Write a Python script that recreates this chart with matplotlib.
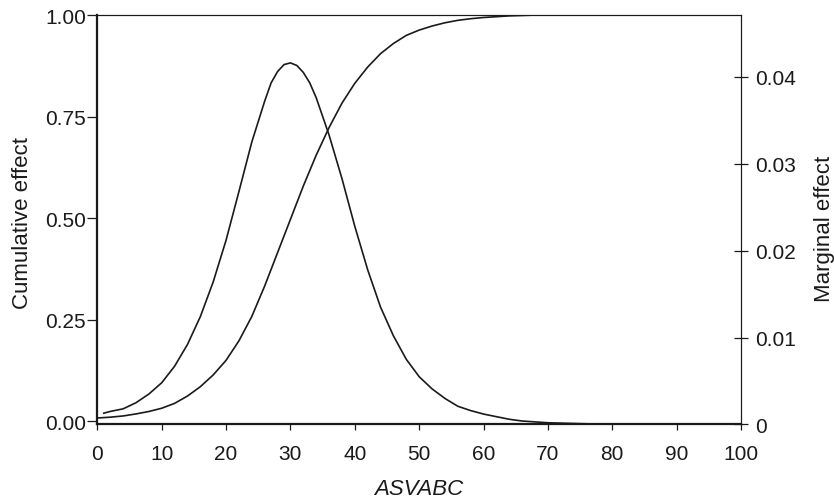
import numpy as np
import matplotlib.pyplot as plt

plt.rcParams['font.family'] = ['Liberation Sans', 'DejaVu Sans']

# cumulative effect (left axis)
x_cum = [0, 2, 4, 6, 8, 10, 12, 14, 16, 18, 20, 22, 24, 26, 28, 30, 32, 34,
         36, 38, 40, 42, 44, 46, 48, 50, 52, 54, 56, 58, 60, 62, 64, 66, 68,
         70, 80, 90, 100]
cum = [0.008, 0.010, 0.013, 0.018, 0.024, 0.032, 0.044, 0.062, 0.085, 0.114,
       0.150, 0.198, 0.258, 0.333, 0.415, 0.497, 0.579, 0.655, 0.723, 0.783,
       0.832, 0.872, 0.905, 0.930, 0.950, 0.963, 0.973, 0.981, 0.987, 0.991,
       0.994, 0.996, 0.998, 0.999, 1.0, 1.0, 1.0, 1.0, 1.0]

# marginal effect (right axis)
x_marg = [1, 2, 4, 6, 8, 10, 12, 14, 16, 18, 20, 22, 24, 26, 27, 28, 29, 30,
          31, 32, 33, 34, 36, 38, 40, 42, 44, 46, 48, 50, 52, 54, 56, 58, 60,
          62, 64, 66, 68, 70, 75, 80, 90, 100]
marg = [0.0013, 0.0015, 0.0018, 0.0025, 0.0035, 0.0048, 0.0067, 0.0092,
        0.0124, 0.0164, 0.0212, 0.0268, 0.0325, 0.0372, 0.0393, 0.0406,
        0.0414, 0.0416, 0.0413, 0.0405, 0.0393, 0.0376, 0.0333, 0.0283,
        0.0228, 0.0178, 0.0135, 0.0102, 0.0075, 0.0055, 0.0041, 0.0030,
        0.0021, 0.0016, 0.0012, 0.0009, 0.0006, 0.0004, 0.0003, 0.0002,
        0.0001, 0.0, 0.0, 0.0]

xticks = list(range(0, 101, 10))
left_ticks = [0.0, 0.25, 0.5, 0.75, 1.0]
right_ticks = [0, 0.01, 0.02, 0.03, 0.04]
right_labels = ['0', '0.01', '0.02', '0.03', '0.04']

fig = plt.figure(figsize=(8.34, 5.02), dpi=100)
ax = fig.add_axes([0.1167, 0.1524, 0.7718, 0.8156])
ax2 = ax.twinx()

ax.plot(x_cum, cum, color='#1a1a1a', lw=1.2)
ax2.plot(x_marg, marg, color='#1a1a1a', lw=1.2)

ax.set_xlim(0, 100)
ax.set_ylim(-0.008, 1.0)
ax2.set_ylim(0, 0.0471)

ax.set_xticks(xticks)
ax.set_xticklabels([str(t) for t in xticks])
ax.set_yticks(left_ticks)
ax.set_yticklabels(['%.2f' % t for t in left_ticks])
ax2.set_yticks(right_ticks)
ax2.set_yticklabels(right_labels)

ax.tick_params(axis='x', direction='out', length=4.3, width=0.9, pad=10,
               labelsize=15, colors='#1a1a1a')
ax.tick_params(axis='y', direction='out', length=7.2, width=0.9, pad=1,
               labelsize=15, colors='#1a1a1a')
ax2.tick_params(axis='y', direction='inout', length=10, width=0.9, pad=5.5,
                labelsize=15, colors='#1a1a1a')

for a in (ax, ax2):
    for s in a.spines.values():
        s.set_color('#1a1a1a')
        s.set_linewidth(0.8)
ax.spines['left'].set_linewidth(1.6)
ax.spines['bottom'].set_linewidth(1.6)
ax2.spines['left'].set_visible(False)
ax2.spines['bottom'].set_visible(False)

fig.text(0.0264, 0.556, 'Cumulative effect', rotation=90, ha='center',
         va='center', fontsize=16, color='#1a1a1a')
fig.text(0.989, 0.544, 'Marginal effect', rotation=90, ha='center',
         va='center', fontsize=16, color='#1a1a1a')
fig.text(0.502, 0.024, 'ASVABC', style='italic', ha='center', va='center',
         fontsize=16, color='#1a1a1a')

fig.savefig('out.png', dpi=100)
